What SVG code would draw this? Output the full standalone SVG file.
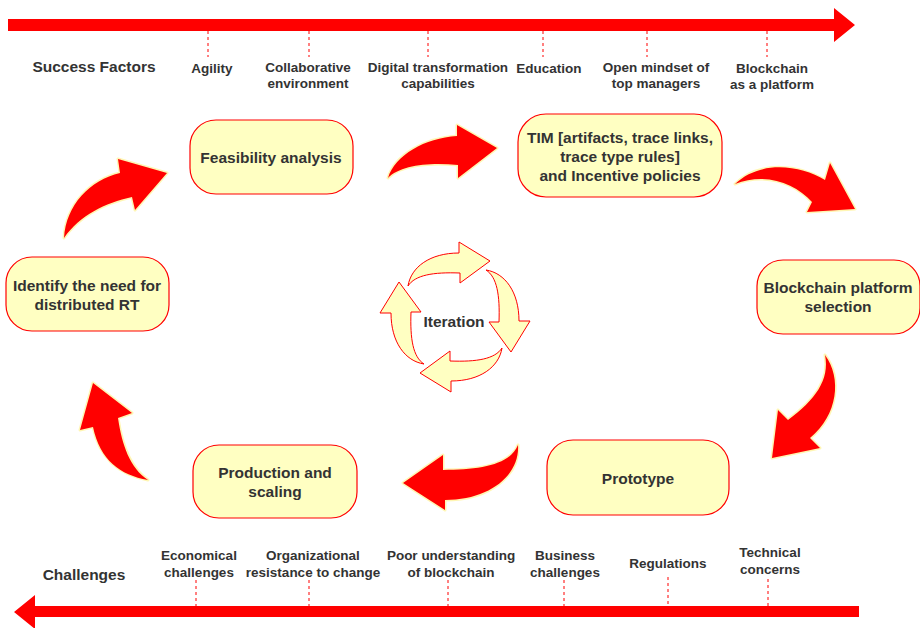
<svg xmlns="http://www.w3.org/2000/svg" width="920" height="628" viewBox="0 0 920 628">
  <style>
    .lbl { font-family: "Liberation Sans", Arial, sans-serif; font-weight: bold; fill: #333; text-anchor: middle; }
    .sm { font-size: 13.5px; }
    .big { font-size: 15.5px; }
    .node rect { fill: #ffffc2; stroke: #ff0000; stroke-width: 1.2; }
    .tick { stroke: #ff0000; stroke-width: 1; stroke-dasharray: 3 3; }
    .flow { fill: #ff0000; stroke: #fff6b4; stroke-width: 3; stroke-linejoin: round; paint-order: stroke; }
    .cyc { fill: #ffffc2; stroke: #ff0000; stroke-width: 1; stroke-linejoin: miter; }
  </style>
  <defs>
    <path id="cycArrow" d="M -47,-31 C -44,-50 -25,-64 4,-64 L 4,-75 L 35,-56 L 5,-34 L 5,-44 C -22,-45 -40,-42 -47,-31 Z"/>
  </defs>

  <rect width="920" height="628" fill="#ffffff"/>

  <!-- Success factor timeline -->
  <g id="success-axis">
    <path d="M 8,19 L 834,19 L 834,8 L 855,25 L 834,42 L 834,31 L 8,31 Z" fill="#ff0000"/>
    <line class="tick" x1="208" y1="31" x2="208" y2="57"/>
    <line class="tick" x1="309" y1="31" x2="309" y2="57"/>
    <line class="tick" x1="428" y1="31" x2="428" y2="57"/>
    <line class="tick" x1="543" y1="31" x2="543" y2="57"/>
    <line class="tick" x1="647" y1="31" x2="647" y2="57"/>
    <line class="tick" x1="767" y1="31" x2="767" y2="57"/>
    <text class="lbl big" x="94" y="72">Success Factors</text>
    <text class="lbl sm" x="212" y="73">Agility</text>
    <text class="lbl sm" x="308" y="72">Collaborative</text>
    <text class="lbl sm" x="308" y="88">environment</text>
    <text class="lbl sm" x="438" y="72">Digital transformation</text>
    <text class="lbl sm" x="438" y="88">capabilities</text>
    <text class="lbl sm" x="549" y="73">Education</text>
    <text class="lbl sm" x="656" y="72">Open mindset of</text>
    <text class="lbl sm" x="656" y="88">top managers</text>
    <text class="lbl sm" x="772" y="73">Blockchain</text>
    <text class="lbl sm" x="772" y="89">as a platform</text>
  </g>

  <!-- Challenges timeline -->
  <g id="challenges-axis">
    <path d="M 859,606 L 35,606 L 35,595 L 14,612 L 35,629 L 35,617 L 859,617 Z" fill="#ff0000"/>
    <line class="tick" x1="196" y1="580" x2="196" y2="606"/>
    <line class="tick" x1="309" y1="580" x2="309" y2="606"/>
    <line class="tick" x1="448" y1="580" x2="448" y2="606"/>
    <line class="tick" x1="564" y1="580" x2="564" y2="606"/>
    <line class="tick" x1="668" y1="577" x2="668" y2="606"/>
    <line class="tick" x1="768" y1="579" x2="768" y2="606"/>
    <text class="lbl big" x="84" y="580">Challenges</text>
    <text class="lbl sm" x="199" y="560">Economical</text>
    <text class="lbl sm" x="199" y="577">challenges</text>
    <text class="lbl sm" x="313" y="560">Organizational</text>
    <text class="lbl sm" x="313" y="577">resistance to change</text>
    <text class="lbl sm" x="451" y="560">Poor understanding</text>
    <text class="lbl sm" x="451" y="577">of blockchain</text>
    <text class="lbl sm" x="565" y="560">Business</text>
    <text class="lbl sm" x="565" y="577">challenges</text>
    <text class="lbl sm" x="668" y="568">Regulations</text>
    <text class="lbl sm" x="770" y="557">Technical</text>
    <text class="lbl sm" x="770" y="574">concerns</text>
  </g>

  <!-- Process steps -->
  <g id="feasibility" class="node">
    <rect x="190" y="120" width="163" height="74" rx="26"/>
    <text class="lbl big" x="271" y="163">Feasibility analysis</text>
  </g>
  <g id="tim" class="node">
    <rect x="518" y="114" width="204" height="83" rx="28"/>
    <text class="lbl big" x="620" y="143">TIM [artifacts, trace links,</text>
    <text class="lbl big" x="620" y="162">trace type rules]</text>
    <text class="lbl big" x="620" y="181">and Incentive policies</text>
  </g>
  <g id="platform" class="node">
    <rect x="757" y="260" width="163" height="74" rx="26"/>
    <text class="lbl big" x="838" y="293">Blockchain platform</text>
    <text class="lbl big" x="838" y="312">selection</text>
  </g>
  <g id="prototype" class="node">
    <rect x="547" y="440" width="182" height="75" rx="26"/>
    <text class="lbl big" x="638" y="484">Prototype</text>
  </g>
  <g id="production" class="node">
    <rect x="193" y="445" width="164" height="73" rx="26"/>
    <text class="lbl big" x="275" y="478">Production and</text>
    <text class="lbl big" x="275" y="497">scaling</text>
  </g>
  <g id="identify" class="node">
    <rect x="6" y="257" width="163" height="74" rx="26"/>
    <text class="lbl big" x="87" y="291">Identify the need for</text>
    <text class="lbl big" x="87" y="310">distributed RT</text>
  </g>

  <!-- Flow arrows between steps -->
  <g id="connectors">
    <path class="flow" d="M 64,238 C 66,205 90,180 120,173 L 118,159 L 167,173 L 135,210 L 132,197 C 105,203 80,215 64,238 Z"/>
    <path class="flow" d="M 388,178 C 395,155 425,138 457,136 L 457,125 L 497,148 L 458,178 L 458,165 C 430,162 400,165 388,178 Z"/>
    <path class="flow" d="M 735,184 C 760,160 800,165 825,180 L 830,163 L 855,209 L 807,212 L 812,202 C 795,183 765,172 735,184 Z"/>
    <path class="flow" d="M 825,355 C 842,378 838,415 810,438 L 820,448 L 772,458 L 778,410 L 788,420 C 815,400 830,380 825,355 Z"/>
    <path class="flow" d="M 518,445 C 520,475 490,500 445,500 L 445,510 L 403,483 L 443,455 L 443,470 C 480,470 510,465 518,445 Z"/>
    <path class="flow" d="M 148,480 C 120,475 100,460 93,427 L 80,430 L 93,383 L 132,413 L 118,418 C 122,445 130,468 148,480 Z"/>
  </g>

  <!-- Iteration cycle -->
  <g id="iteration">
    <g transform="translate(455,317)">
      <use href="#cycArrow" class="cyc"/>
      <use href="#cycArrow" class="cyc" transform="rotate(90)"/>
      <use href="#cycArrow" class="cyc" transform="rotate(180)"/>
      <use href="#cycArrow" class="cyc" transform="rotate(270)"/>
    </g>
    <text class="lbl big" x="454" y="327">Iteration</text>
  </g>
</svg>
